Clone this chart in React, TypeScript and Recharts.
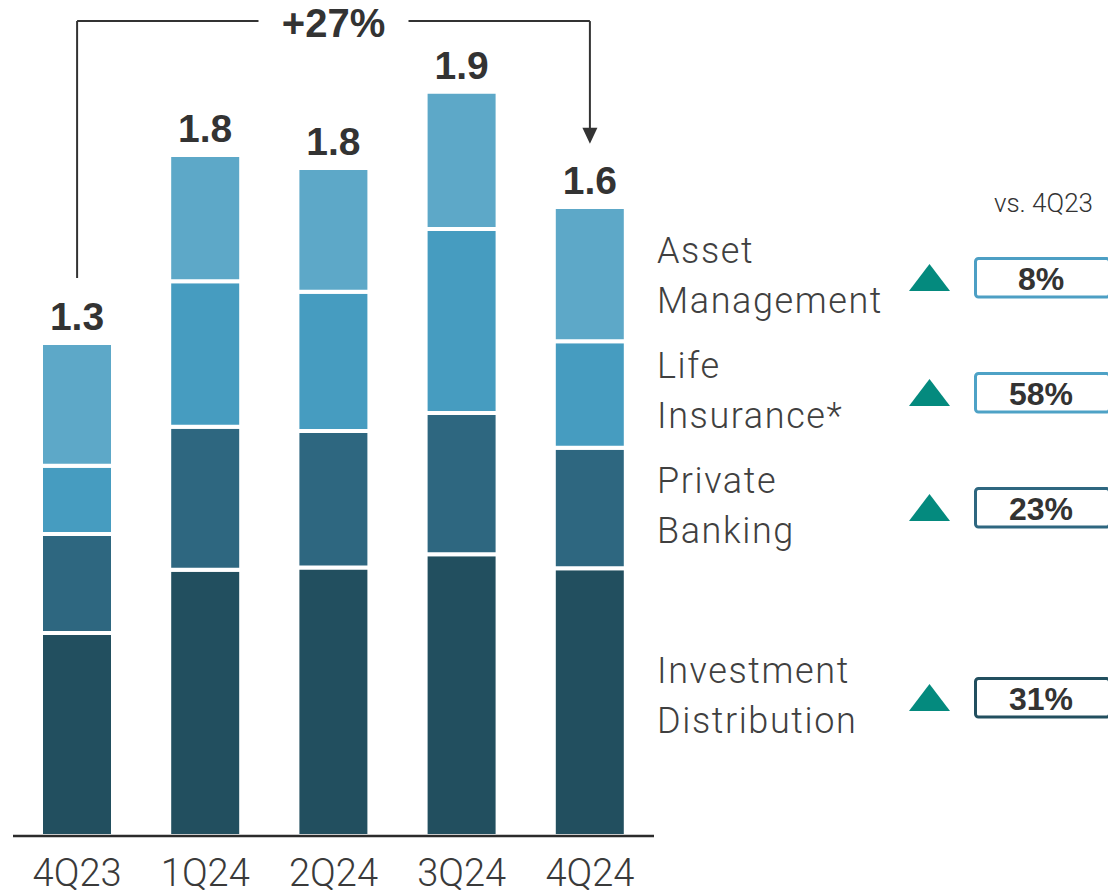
import React from 'react';
import { BarChart, Bar, XAxis, YAxis, LabelList, ReferenceLine, ReferenceDot } from 'recharts';

const categories = ['4Q23', '1Q24', '2Q24', '3Q24', '4Q24'];
const investmentDistribution = [0.531, 0.696, 0.702, 0.737, 0.7];
const privateBanking = [0.259, 0.374, 0.357, 0.369, 0.315];
const lifeInsurance = [0.178, 0.381, 0.364, 0.481, 0.279];
const assetManagement = [0.321, 0.33, 0.324, 0.359, 0.351];
const totalLabels = ['1.3', '1.8', '1.8', '1.9', '1.6'];

const legendLines = [
  ['Asset', 'Management'],
  ['Life', 'Insurance*'],
  ['Private', 'Banking'],
  ['Investment', 'Distribution'],
];
const changeLabels = ['8%', '58%', '23%', '31%'];
const growthLabel = '+27%';
const compareLabel = 'vs. 4Q23';

const colors = {
  id: '#224f5f',
  pb: '#2e6780',
  li: '#469cc0',
  am: '#5da8c8',
};
const boxColors = ['#4d9fc4', '#4ea2c6', colors.pb, colors.id];
const rowTops = [257, 372, 487, 677];

const data = categories.map((c, i) => ({
  name: c,
  id: investmentDistribution[i],
  pb: privateBanking[i],
  li: lifeInsurance[i],
  am: assetManagement[i],
  total: totalLabels[i],
}));

const BOLD = '"Liberation Sans", Arial, sans-serif';
const LIGHT = 'Roboto, "Liberation Sans", sans-serif';

const Tick = (props: any) => (
  <text
    x={props.x}
    y={props.y + 50}
    textAnchor="middle"
    fontSize={38}
    fontFamily={LIGHT}
    fontWeight={300}
    fill="#3a3a3a"
  >
    {props.payload.value}
  </text>
);

const TotalLabel = (props: any) => {
  const { x, y, width, index } = props;
  return (
    <text
      x={x + width / 2}
      y={y - 13}
      textAnchor="middle"
      fontSize={39}
      fontWeight={700}
      fontFamily={BOLD}
      fill="#333"
    >
      {totalLabels[index]}
    </text>
  );
};

const GrowthLabel = (props: any) => {
  const vb = props.viewBox || {};
  const cx = vb.x + vb.width / 2;
  const cy = vb.y;
  return (
    <g>
      <rect x={cx - 75} y={cy - 10} width={150} height={20} fill="#fff" />
      <text
        x={cx}
        y={cy + 16}
        textAnchor="middle"
        fontSize={40}
        fontWeight={700}
        fontFamily={BOLD}
        fill="#333"
      >
        {growthLabel}
      </text>
    </g>
  );
};

const ArrowHead = (props: any) => {
  const { cx, cy } = props;
  return <polygon points={`${cx},${cy} ${cx - 7.5},${cy - 16} ${cx + 7.5},${cy - 16}`} fill="#333" />;
};

const BRACKET_TOP = 2.131;
const LEFT_BOTTOM = 1.459;
const RIGHT_BOTTOM = 1.85;
const ARROW_TIP = 1.81;

export default function App() {
  return (
    <div style={{ position: 'absolute', left: 0, top: 0, width: 1108, height: 890, background: '#fff' }}>
      <BarChart
        width={1108}
        height={890}
        data={data}
        margin={{ top: 10, right: 454, bottom: 4, left: 13 }}
        barSize={72}
      >
        <YAxis hide domain={[0, 2.16]} allowDataOverflow />
        <Bar dataKey="id" stackId="a" fill={colors.id} stroke="#fff" strokeWidth={4} isAnimationActive={false} />
        <Bar dataKey="pb" stackId="a" fill={colors.pb} stroke="#fff" strokeWidth={4} isAnimationActive={false} />
        <Bar dataKey="li" stackId="a" fill={colors.li} stroke="#fff" strokeWidth={4} isAnimationActive={false} />
        <Bar dataKey="am" stackId="a" fill={colors.am} stroke="#fff" strokeWidth={4} isAnimationActive={false}>
          <LabelList dataKey="total" content={TotalLabel} />
        </Bar>
        <ReferenceLine
          segment={[{ x: '4Q23', y: LEFT_BOTTOM }, { x: '4Q23', y: BRACKET_TOP }]}
          stroke="#333"
          strokeWidth={2}
          ifOverflow="visible"
        />
        <ReferenceLine
          segment={[{ x: '4Q23', y: BRACKET_TOP }, { x: '4Q24', y: BRACKET_TOP }]}
          stroke="#333"
          strokeWidth={2}
          ifOverflow="visible"
          label={<GrowthLabel />}
        />
        <ReferenceLine
          segment={[{ x: '4Q24', y: BRACKET_TOP }, { x: '4Q24', y: RIGHT_BOTTOM }]}
          stroke="#333"
          strokeWidth={2}
          ifOverflow="visible"
        />
        <ReferenceDot x="4Q24" y={ARROW_TIP} r={8} shape={ArrowHead} ifOverflow="visible" />
        <XAxis
          dataKey="name"
          height={50}
          axisLine={{ stroke: '#2b2b2b', strokeWidth: 2.5 }}
          tickLine={false}
          tickSize={0}
          tickMargin={0}
          tick={Tick}
          interval={0}
        />
      </BarChart>
      <svg
        width={1108}
        height={890}
        style={{ position: 'absolute', left: 0, top: 0, pointerEvents: 'none' }}
      >
        <text x={1093} y={212} textAnchor="end" fontSize={26} fontFamily={LIGHT} fontWeight={300} fill="#333">
          {compareLabel}
        </text>
        {legendLines.map((lines, i) => {
          const top = rowTops[i];
          return (
            <g key={i}>
              {lines.map((ln, j) => (
                <text
                  key={j}
                  x={657}
                  y={top + 6 + j * 50}
                  fontSize={36}
                  letterSpacing={1.6}
                  fontFamily={LIGHT}
                  fontWeight={300}
                  fill="#404040"
                >
                  {ln}
                </text>
              ))}
              <polygon
                points={`${929.5},${top + 7} ${909},${top + 34} ${950},${top + 34}`}
                fill="#048a7e"
              />
              <rect
                x={975.5}
                y={top + 1.5}
                width={134}
                height={38.5}
                rx={3}
                fill="#fff"
                stroke={boxColors[i]}
                strokeWidth={3}
              />
              <text
                x={1041}
                y={top + 33}
                textAnchor="middle"
                fontSize={32}
                fontWeight={700}
                fontFamily={BOLD}
                fill="#333"
              >
                {changeLabels[i]}
              </text>
            </g>
          );
        })}
      </svg>
    </div>
  );
}
